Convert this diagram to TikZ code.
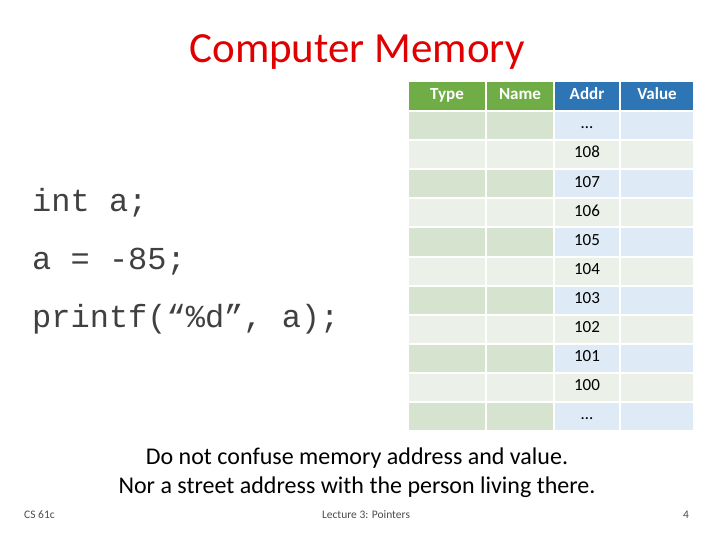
\documentclass[tikz,border=0pt]{standalone}
\usepackage{fontspec}
\setmainfont{Carlito}
\newfontfamily\codefont{Liberation Mono}
\definecolor{hg}{HTML}{70AD47}
\definecolor{hb}{HTML}{2E75B6}
\definecolor{og}{HTML}{D5E3CF}
\definecolor{ob}{HTML}{DEEAF6}
\definecolor{ev}{HTML}{EBF0E8}
\definecolor{tr}{HTML}{E00000}
\begin{document}
\begin{tikzpicture}[x=1pt,y=-1pt,
  cell/.style={inner sep=0pt,text height=1.6ex,text depth=0.4ex,font=\fontsize{17}{19}\selectfont},
  code/.style={anchor=west,inner sep=0pt,font=\codefont\fontsize{32}{34}\selectfont,text=black!75},
  note/.style={font=\fontsize{24}{27}\selectfont},
  foot/.style={font=\fontsize{11.5}{13}\selectfont,text=black!70}]
\useasboundingbox[fill=white] (0,0) rectangle (720,540);
\node[font=\fontsize{43}{46}\selectfont,text=tr] (title) at (357,52) {Computer Memory};
% header
\foreach \x/\w/\c/\t in {409/76/hg/Type,487/66/hg/Name,555/64/hb/Addr,621/72/hb/Value}{
  \fill[\c] (\x,82) rectangle ++(\w,28);
  \node[cell,text=white,font=\bfseries\fontsize{17}{19}\selectfont] (h\t) at (\x+\w/2,97) {\t};
}
\foreach \i/\lab in {0/\dots,1/108,2/107,3/106,4/105,5/104,6/103,7/102,8/101,9/100,10/\dots}{
  \pgfmathsetmacro{\yy}{112+29.1*\i}
  \ifodd\i
    \fill[ev] (409,\yy) rectangle ++(76,27.1);
    \fill[ev] (487,\yy) rectangle ++(66,27.1);
    \fill[ev] (555,\yy) rectangle ++(64,27.1);
    \fill[ev] (621,\yy) rectangle ++(72,27.1);
  \else
    \fill[og] (409,\yy) rectangle ++(76,27.1);
    \fill[og] (487,\yy) rectangle ++(66,27.1);
    \fill[ob] (555,\yy) rectangle ++(64,27.1);
    \fill[ob] (621,\yy) rectangle ++(72,27.1);
  \fi
  \node[cell] (a\i) at (587,\yy+14) {\lab};
}
\node[code] (c1) at (32,203) {int a;};
\node[code] (c2) at (32,262) {a = -85;};
\node[code] (c3) at (32,319) {printf(“\%d”, a);};
\node[note] (n1) at (357,458) {Do not confuse memory address and value.};
\node[note] (n2) at (357,487) {Nor a street address with the person living there.};
\node[foot,anchor=west,inner sep=0pt] (f1) at (24,515) {CS 61c};
\node[foot] (f2) at (366,515) {Lecture 3: Pointers};
\node[foot] (f3) at (686,515) {4};
\end{tikzpicture}
\end{document}
